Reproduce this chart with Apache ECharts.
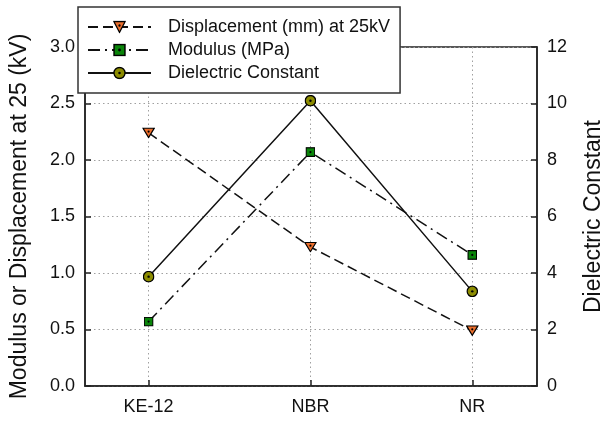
<!DOCTYPE html>
<html>
<head>
<meta charset="utf-8">
<script src="https://cdn.jsdelivr.net/npm/echarts@6/dist/echarts.min.js"></script>
<style>
  html, body { margin: 0; padding: 0; background: #fff; }
  #chart { width: 613px; height: 421px; }
</style>
</head>
<body>
<div id="chart"></div>
<script>
// Samples on the x axis
const categories = ['KE-12', 'NBR', 'NR'];
// Left axis: displacement (mm) at 25 kV and modulus (MPa)
const displacement = [2.24, 1.23, 0.49];
const modulus = [0.57, 2.07, 1.16];
// Right axis: dielectric constant
const dielectric = [3.87, 10.1, 3.35];

const FONT = 'Liberation Sans, Arial, sans-serif';

// Marker glyphs with a black centre dot
function svgSymbol(svg) {
  return 'image://data:image/svg+xml;charset=utf-8,' + encodeURIComponent(svg);
}
const triSym = svgSymbol(
  '<svg xmlns="http://www.w3.org/2000/svg" width="26" height="22" viewBox="0 0 13 11">' +
  '<polygon points="0.8,0.8 12.2,0.8 6.5,10.2" fill="#ec6f2d" stroke="#000" stroke-width="1.2" stroke-linejoin="miter"/>' +
  '<circle cx="6.5" cy="4.2" r="1.1" fill="#000"/></svg>');
const sqSym = svgSymbol(
  '<svg xmlns="http://www.w3.org/2000/svg" width="20" height="20" viewBox="0 0 10 10">' +
  '<rect x="0.7" y="0.7" width="8.6" height="8.6" fill="#0a850a" stroke="#000" stroke-width="1.2"/>' +
  '<circle cx="5" cy="5" r="1.1" fill="#000"/></svg>');
const circSym = svgSymbol(
  '<svg xmlns="http://www.w3.org/2000/svg" width="24" height="24" viewBox="0 0 12 12">' +
  '<circle cx="6" cy="6" r="5.2" fill="#8c8c00" stroke="#000" stroke-width="1.3"/>' +
  '<circle cx="6" cy="6" r="1.2" fill="#000"/></svg>');

const toXY = arr => arr.map((v, i) => [i, v]);
const catIdx = categories.map((c, i) => i);

const chart = echarts.init(document.getElementById('chart'), null, { renderer: 'canvas' });

const dotted = { color: '#a0a0a0', type: [1.5, 3], width: 1 };
const axisLineStyle = { color: '#222', width: 1.5 };

const option = {
  backgroundColor: '#fff',
  animation: false,
  grid: {
    left: 77, right: 66, top: 47, bottom: 35,
    show: true, borderColor: '#222', borderWidth: 1.5, backgroundColor: 'transparent'
  },
  legend: {
    orient: 'vertical',
    left: 78, top: 7,
    padding: [11, 10, 11, 9],
    itemGap: 5,
    itemWidth: 63,
    itemHeight: 16,
    backgroundColor: '#fff',
    borderColor: '#333',
    borderWidth: 1.5,
    borderRadius: 0,
    textStyle: { fontFamily: FONT, fontSize: 18, color: '#111', padding: [0, 0, 0, 12] },
    data: ['Displacement (mm) at 25kV', 'Modulus (MPa)', 'Dielectric Constant']
  },
  xAxis: {
    type: 'value',
    min: -0.393, max: 2.4,
    axisLine: { show: true, onZero: false, lineStyle: axisLineStyle },
    axisTick: { show: true, inside: true, length: 6, customValues: catIdx, lineStyle: axisLineStyle },
    axisLabel: {
      customValues: catIdx,
      formatter: v => categories[Math.round(v)] || '',
      fontFamily: FONT, fontSize: 18, color: '#111', margin: 12
    },
    splitLine: { show: true, lineStyle: dotted }
  },
  yAxis: [
    {
      type: 'value', min: 0, max: 3, interval: 0.5, position: 'left',
      name: 'Modulus or Displacement at 25 (kV)',
      nameLocation: 'middle', nameRotate: 90, nameGap: 54,
      nameTextStyle: { fontFamily: FONT, fontSize: 23, color: '#111' },
      axisLine: { show: true, onZero: false, lineStyle: axisLineStyle },
      axisTick: { show: true, inside: true, length: 6, lineStyle: axisLineStyle },
      axisLabel: { formatter: v => v.toFixed(1), fontFamily: FONT, fontSize: 18, color: '#111', margin: 10 },
      splitLine: { show: true, lineStyle: dotted }
    },
    {
      type: 'value', min: 0, max: 12, interval: 2, position: 'right',
      name: 'Dielectric Constant',
      nameLocation: 'middle', nameRotate: 90, nameGap: 45,
      nameTextStyle: { fontFamily: FONT, fontSize: 23, color: '#111' },
      axisLine: { show: true, onZero: false, lineStyle: axisLineStyle },
      axisTick: { show: true, inside: true, length: 6, lineStyle: axisLineStyle },
      axisLabel: { fontFamily: FONT, fontSize: 18, color: '#111', margin: 10 },
      splitLine: { show: false }
    }
  ],
  series: [
    {
      name: 'Displacement (mm) at 25kV', type: 'line', yAxisIndex: 0,
      data: toXY(displacement),
      symbol: triSym, symbolSize: [13, 11],
      lineStyle: { color: '#111', width: 1.5, type: [10, 5] },
      itemStyle: { color: '#ec6f2d' }, z: 3
    },
    {
      name: 'Modulus (MPa)', type: 'line', yAxisIndex: 0,
      data: toXY(modulus),
      symbol: sqSym, symbolSize: 10,
      lineStyle: { color: '#111', width: 1.5, type: [12, 5, 2, 5] },
      itemStyle: { color: '#0a850a' }, z: 3
    },
    {
      name: 'Dielectric Constant', type: 'line', yAxisIndex: 1,
      data: toXY(dielectric),
      symbol: circSym, symbolSize: 12,
      lineStyle: { color: '#111', width: 1.5, type: 'solid' },
      itemStyle: { color: '#8c8c00' }, z: 3
    }
  ]
};

chart.setOption(option);
</script>
</body>
</html>
